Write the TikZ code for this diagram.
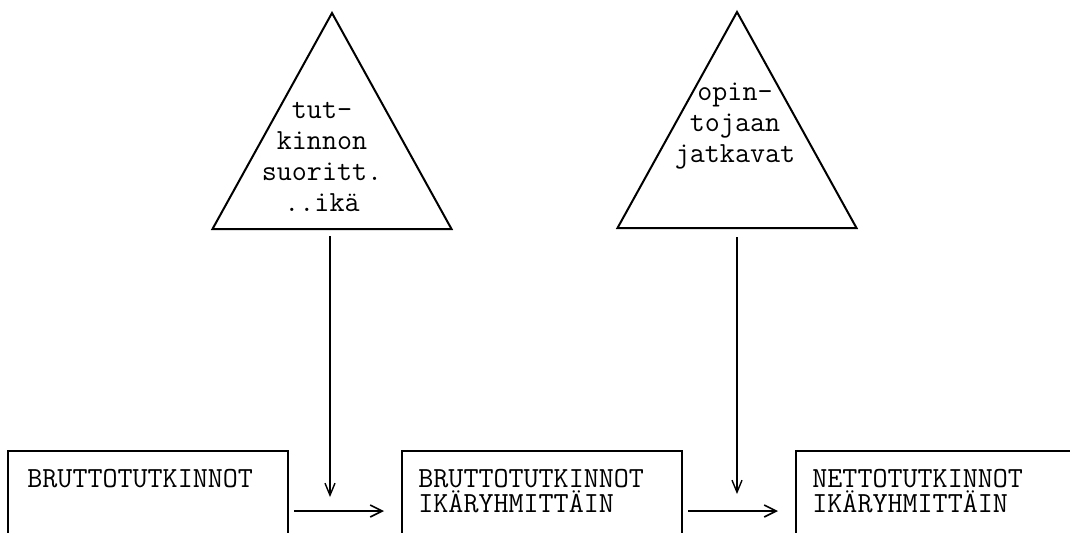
\documentclass[tikz,border=0pt]{standalone}
\usepackage{tikz}
\usetikzlibrary{arrows.meta,positioning,calc}
\tikzset{
    stage/.style = {draw, rectangle, line width=1pt,
        minimum width=140pt,
        minimum height=60pt, inner sep=0pt},
    stagetext/.style = {anchor=north west, align=left, inner sep=0pt,
        font=\fontsize{14.6}{12.6}\selectfont\ttfamily},
    factor/.style = {align=center, inner sep=0pt,
        font=\fontsize{14.6}{15.5}\selectfont\ttfamily},
    flow/.style = {draw, line width=1.2pt, -{Straight Barb[length=6pt,width=6pt,line width=0.8pt]},
        shorten <=2.5pt, shorten >=8.5pt},
    feed/.style = {draw, line width=0.7pt, -{Straight Barb[length=6pt,width=5pt]}}
}
\def\factortri{%
    -- +(-119.5,216) -- +(119.5,216) -- cycle
}

\begin{document}
\begin{tikzpicture}[x=0.5pt, y=-0.5pt]
    \useasboundingbox (0,0) rectangle (1070,532);
    % factor triangles
    \coordinate (apex1) at (332,13);
    \coordinate (apex2) at (737,12);
    \draw [line width=1pt] (apex1) \factortri;
    \draw [line width=1pt] (apex2) \factortri;
    \node [factor] (age) at (322,157) {tut-\\kinnon\\suoritt.\\..ikä};
    \node [factor] (cont) at (735,126) {opin-\\tojaan\\jatkavat};
    % stages
    \node [stage] (gross) at (148,511) {};
    \node [stage, right of=gross, node distance=197pt] (grossage) {};
    \node [stage, right of=grossage, node distance=197pt] (netage) {};
    \node [stagetext] (grosstxt) at ([shift={(20,19)}]gross.north west) {BRUTTOTUTKINNOT};
    \node [stagetext] (grossagetxt) at ([shift={(17,19)}]grossage.north west) {BRUTTOTUTKINNOT\\IK\"ARYHMITT\"AIN};
    \node [stagetext] (netagetxt) at ([shift={(17,19)}]netage.north west) {NETTOTUTKINNOT\\IK\"ARYHMITT\"AIN};
    % connectors
    \coordinate (base1) at (330,236);
    \coordinate (base2) at (737,237);
    \coordinate (join1) at (330,497);
    \coordinate (join2) at (737,494);
    \draw [feed] (base1) -- (join1);
    \draw [feed] (base2) -- (join2);
    \draw [flow] (gross) -- (grossage);
    \draw [flow] (grossage) -- (netage);
\end{tikzpicture}
\end{document}
